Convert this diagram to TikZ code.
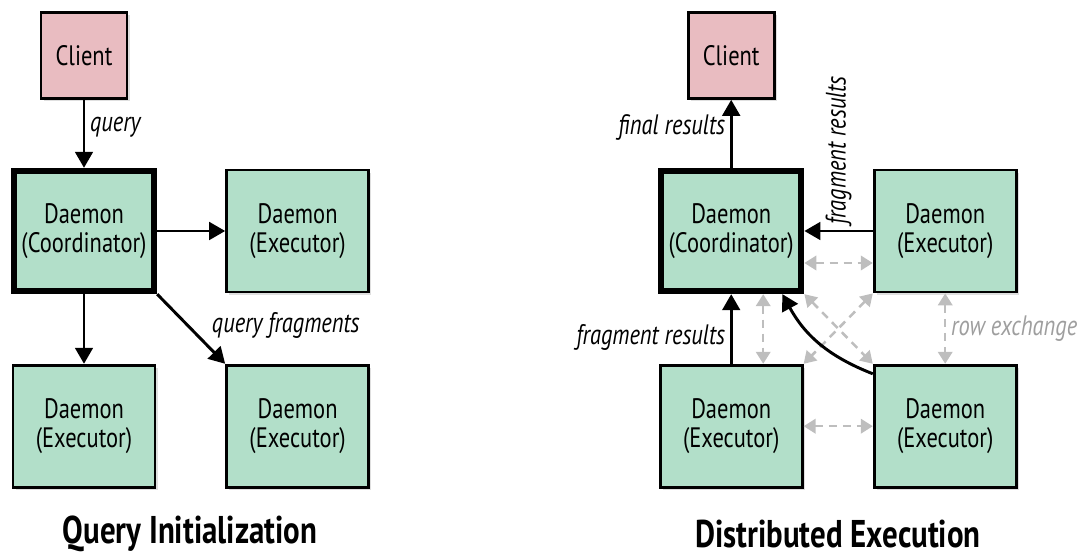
\documentclass[tikz,border=0pt]{standalone}
\usepackage{xcolor}
\usepackage{fontspec}
\setmainfont[FakeStretch=0.8]{PT Sans}
\usepackage{tikz}
\usetikzlibrary{arrows.meta, shadows}

\begin{document}
\begin{tikzpicture}[
  daemon/.style={draw=black, line width=2pt, fill=daemongreen, minimum width=3.55cm, minimum height=3.05cm, align=center, font=\fontsize{20}{21}\selectfont, drop shadow={shadow xshift=2pt, shadow yshift=-2pt, opacity=0.25}},
  coordbox/.style={daemon, line width=4.5pt, minimum width=3.5cm, minimum height=3.0cm},
  clientbox/.style={daemon, fill=clientpink, minimum width=2.15cm, minimum height=2.15cm},
  flow/.style={line width=2.1pt, -{Triangle[length=0.4cm, width=0.44cm]}},
  swap/.style={draw=swapgray, line width=1.8pt, dash pattern=on 0.2cm off 0.15cm, {Triangle[length=0.3cm, width=0.36cm]}-{Triangle[length=0.3cm, width=0.36cm]}},
  lbl/.style={font=\itshape\fontsize{20}{20}\selectfont},
  heading/.style={font=\bfseries\fontsize{27.5}{28}\selectfont, inner sep=1pt}
]
  \definecolor{daemongreen}{HTML}{B2DFC9}
  \definecolor{clientpink}{HTML}{E9BCC1}
  \definecolor{swapgray}{HTML}{BEBEBE}
  \definecolor{labelgray}{HTML}{9E9E9E}

  \useasboundingbox (0,0) rectangle (27,13.975);

  \node[clientbox] (client1) at (2.1, 12.59) {Client};
  \node[coordbox] (coord1) at (2.1, 8.2) {Daemon\\(Coordinator)};
  \node[daemon] (exec1a) at (7.44, 8.2) {Daemon\\(Executor)};
  \node[daemon] (exec1b) at (2.1, 3.32) {Daemon\\(Executor)};
  \node[daemon] (exec1c) at (7.44, 3.32) {Daemon\\(Executor)};

  \draw[flow] (client1) -- node[lbl, right, pos=0.4] (lblquery) {query} (coord1);
  \draw[flow] (coord1) -- (exec1a);
  \draw[flow] (coord1) -- (exec1b);
  \draw[flow] (coord1.south east) -- node[lbl, pos=0.45, anchor=west, xshift=0.45cm] (lblfrag) {query fragments} (exec1c.north west);

  \node[heading] (title1) at (4.75, 0.62) {Query Initialization};

  \node[clientbox] (client2) at (18.28, 12.59) {Client};
  \node[coordbox] (coord2) at (18.28, 8.2) {Daemon\\(Coordinator)};
  \node[daemon] (exec2a) at (23.63, 8.2) {Daemon\\(Executor)};
  \node[daemon] (exec2b) at (18.28, 3.32) {Daemon\\(Executor)};
  \node[daemon] (exec2c) at (23.63, 3.32) {Daemon\\(Executor)};

  \draw[swap] ([yshift=-0.8cm]coord2.east) -- ([yshift=-0.8cm]exec2a.west);
  \draw[swap] (exec2b) -- (exec2c);
  \draw[swap] ([xshift=0.8cm]coord2.south) -- ([xshift=0.8cm]exec2b.north);
  \draw[swap] (exec2a) -- node[lbl, right, text=labelgray] (lblrow) {row exchange} (exec2c);
  \draw[swap] (coord2.south east) -- (exec2c.north west);
  \draw[swap] (exec2a.south west) -- (exec2b.north east);

  \draw[flow] (coord2) -- node[lbl, left, pos=0.6] (lblfinal) {final results} (client2);
  \draw[flow] (exec2a) -- node[lbl, rotate=90, anchor=west, pos=0.5] (lblres1) {fragment results} (coord2);
  \draw[flow] (exec2b) -- node[lbl, left, pos=0.38] (lblres2) {fragment results} (coord2);
  \draw[flow] ([yshift=-0.25cm]exec2c.north west) to[bend left=20] ([xshift=1.28cm]coord2.south);

  \node[heading] (title2) at (20.95, 0.62) {Distributed Execution};
\end{tikzpicture}
\end{document}
